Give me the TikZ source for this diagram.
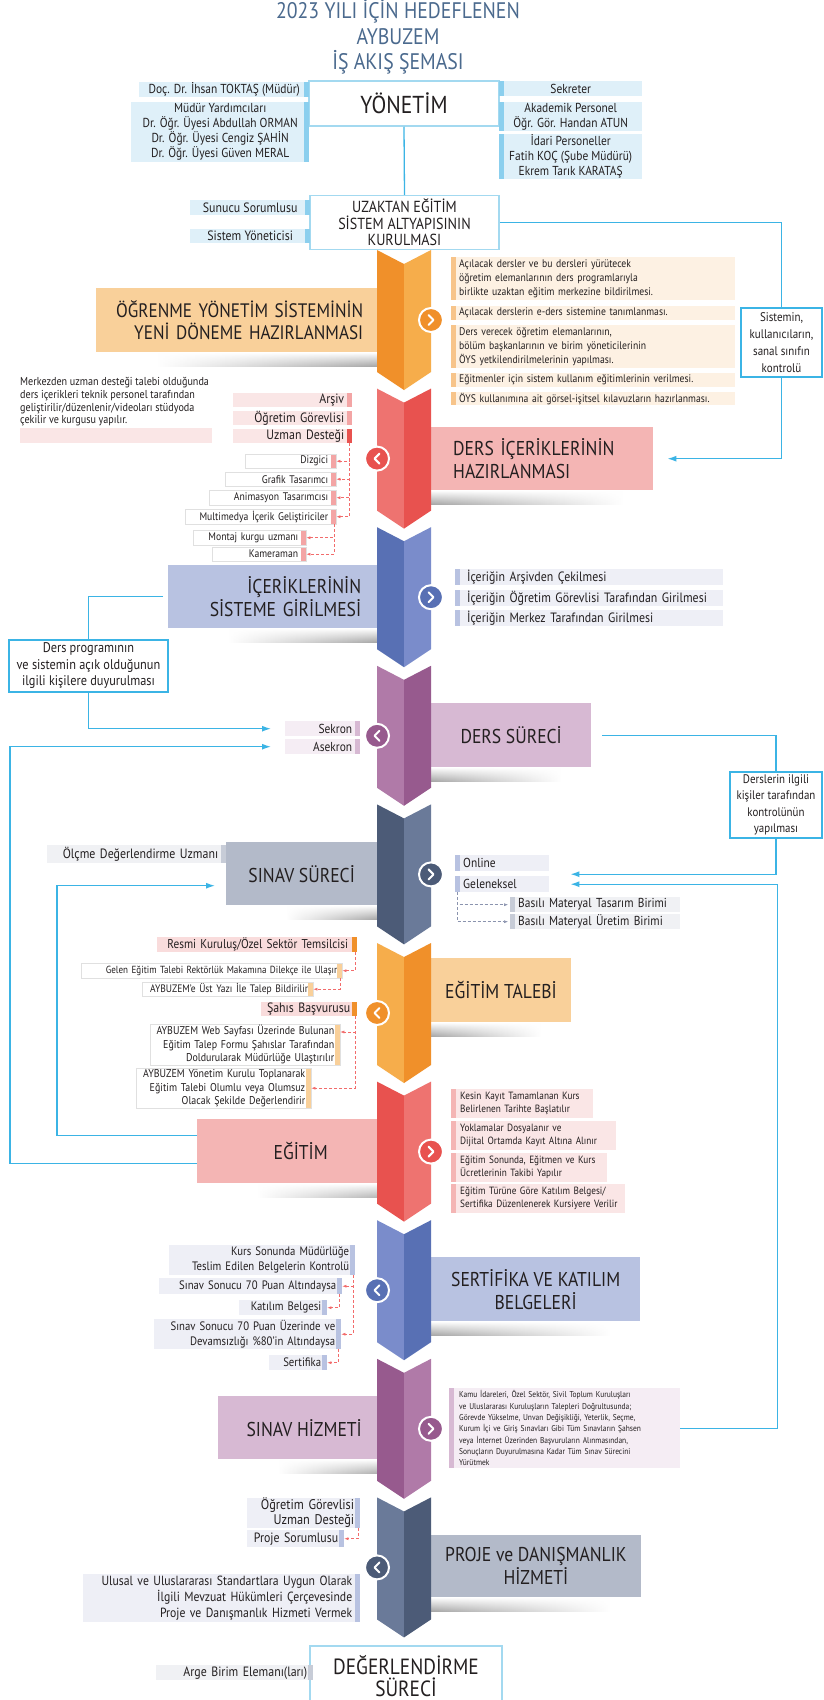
\documentclass[tikz,border=0pt]{standalone}
\usepackage{fontspec}
\setmainfont{PT Sans}[FakeStretch=0.88]
\usetikzlibrary{arrows.meta,calc,fadings}

\definecolor{baslik}{HTML}{4B6A8E}
\definecolor{metin}{HTML}{231F20}
\definecolor{cizgimavi}{HTML}{3BB4E5}
\definecolor{kenarmavi}{HTML}{A3D9F0}
\definecolor{maviZ}{HTML}{DFF0F9}
\definecolor{maviBar}{HTML}{8BCFEE}
\definecolor{turuncuK}{HTML}{F0902A}
\definecolor{turuncuA}{HTML}{F6AD4B}
\definecolor{turuncuB}{HTML}{F9D09A}
\definecolor{turuncuZ}{HTML}{FDF1E3}
\definecolor{turuncuBar}{HTML}{F7C48A}
\definecolor{kirmiziK}{HTML}{E8524F}
\definecolor{kirmiziA}{HTML}{EE7370}
\definecolor{kirmiziB}{HTML}{F4B5B4}
\definecolor{kirmiziZ}{HTML}{FAE6E6}
\definecolor{kirmiziBar}{HTML}{F3A5A5}
\definecolor{pembeZ}{HTML}{F9DCDC}
\definecolor{laciK}{HTML}{5870B4}
\definecolor{laciA}{HTML}{7A8CCB}
\definecolor{laciB}{HTML}{B8C2E1}
\definecolor{laciZ}{HTML}{EEEFF6}
\definecolor{morK}{HTML}{975A8E}
\definecolor{morA}{HTML}{B07AA8}
\definecolor{morB}{HTML}{D7B9D3}
\definecolor{morZ}{HTML}{F5EDF4}
\definecolor{griK}{HTML}{4C5B77}
\definecolor{griA}{HTML}{6A7A99}
\definecolor{griB}{HTML}{B3BAC9}
\definecolor{griZ}{HTML}{F0F1F4}
\definecolor{griBar}{HTML}{C7CCD7}
\definecolor{kesikkirmizi}{HTML}{F26B6B}
\definecolor{kesikgri}{HTML}{8A93AE}

\newcommand{\yazi}[2]{\fontsize{#1}{#2}\selectfont}

\begin{document}
\begin{tikzpicture}[x=1pt, y=-1pt,
    kutu/.style={inner xsep=8pt, inner ysep=0pt, anchor=north west, text=metin, font=\yazi{11}{14}},
    solbar/.style={path picture={\fill[#1] (path picture bounding box.north west) rectangle ([xshift=5pt]path picture bounding box.south west);}},
    sagbar/.style={path picture={\fill[#1] ([xshift=-5pt]path picture bounding box.north east) rectangle (path picture bounding box.south east);}},
    beyaz/.style={fill=white, draw=black!12, line width=0.4pt},
    band/.style={anchor=north west, inner xsep=14pt, inner ysep=0pt, text=metin, font=\yazi{20}{23}},
    cerceve/.style={draw=kenarmavi, line width=1.5pt, fill=white, text=metin},
    mavikutu/.style={draw=cizgimavi, line width=1.3pt, fill=white, text=metin, inner sep=1pt},
    mavicizgi/.style={draw=cizgimavi, line width=1.3pt, >={Latex[length=9pt,width=6pt]}},
    kesik/.style={draw=kesikkirmizi, densely dashed, line width=0.5pt, ->, >={Latex[length=4pt,width=3pt]}},
    kesikg/.style={kesik, draw=kesikgri}]

    \fill[white] (0,0) rectangle (824,1700);
    \useasboundingbox (0,0) rectangle (824,1700);

    % Başlık
    \node[font=\yazi{22.5}{25.5}, text=baslik, align=center] (baslik) at (398,37) {2023 YILI İÇİN HEDEFLENEN\\AYBUZEM\\İŞ AKIŞ ŞEMASI};

    % Yönetim
    \node[cerceve, minimum width=190pt, minimum height=45pt, font=\yazi{24.5}{28}] (yonetim) at (404,103.5) {YÖNETİM};
    \node[kutu, fill=maviZ, sagbar=maviBar, minimum width=170pt, minimum height=15pt, align=center, font=\yazi{13}{15}] (mudur) at (139,82) {Doç. Dr. İhsan TOKTAŞ (Müdür)};
    \node[kutu, fill=maviZ, sagbar=maviBar, minimum width=178pt, minimum height=60pt, align=center, font=\yazi{13}{15}] (yardimci) at (131,102) {Müdür Yardımcıları\\Dr. Öğr. Üyesi Abdullah ORMAN\\Dr. Öğr. Üyesi Cengiz ŞAHİN\\Dr. Öğr. Üyesi Güven MERAL};
    \node[kutu, fill=maviZ, solbar=maviBar, minimum width=143pt, minimum height=15pt, align=center, font=\yazi{13}{15}] (sekreter) at (499,81) {Sekreter};
    \node[kutu, fill=maviZ, solbar=maviBar, minimum width=143pt, minimum height=29pt, align=center, font=\yazi{13}{15}] (akademik) at (499,102) {Akademik Personel\\Öğr. Gör. Handan ATUN};
    \node[kutu, fill=maviZ, solbar=maviBar, minimum width=143pt, minimum height=45pt, align=center, font=\yazi{13}{15}] (idari) at (499,134) {İdari Personeller\\Fatih KOÇ (Şube Müdürü)\\Ekrem Tarık KARATAŞ};

    % Altyapı
    \node[cerceve, minimum width=189pt, minimum height=53pt, align=center, font=\yazi{16}{16.5}] (uzaktan) at (404.5,222.5) {UZAKTAN EĞİTİM\\SİSTEM ALTYAPISININ\\KURULMASI};
    \node[kutu, fill=maviZ, sagbar=maviBar, minimum width=120pt, minimum height=15pt, font=\yazi{13.5}{15}] (sunucu) at (190,200) {Sunucu Sorumlusu};
    \node[kutu, fill=maviZ, sagbar=maviBar, minimum width=120pt, minimum height=14pt, font=\yazi{13.5}{15}] (sistemyon) at (190,229) {Sistem Yöneticisi};
    \node[mavikutu, minimum width=81pt, minimum height=69pt, align=center, font=\yazi{12.5}{17}] (sistemin) at (781.5,342.5) {Sistemin,\\kullanıcıların,\\sanal sınıfın\\kontrolü};

    % Şeritler
    \node[band, fill=turuncuB, text width=253pt, align=right, minimum height=64pt, font=\yazi{19.5}{22}] (ogrenme) at (96,288) {ÖĞRENME YÖNETİM SİSTEMİNİN\\YENİ DÖNEME HAZIRLANMASI};
    \node[band, fill=kirmiziB, inner xsep=22pt, text width=178pt, align=left, minimum height=63pt] (dersicerik) at (431,427) {DERS İÇERİKLERİNİN\\HAZIRLANMASI};
    \node[band, fill=laciB, inner xsep=16pt, text width=177pt, align=right, minimum height=63pt] (icerikgiris) at (168,565) {İÇERİKLERİNİN\\SİSTEME GİRİLMESİ};
    \node[band, fill=morB, minimum width=160pt, minimum height=64pt] (derssureci) at (431,703) {DERS SÜRECİ};
    \node[band, fill=griB, minimum width=151pt, minimum height=63pt] (sinavsureci) at (226,842) {SINAV SÜRECİ};
    \node[band, fill=turuncuB, minimum width=130pt, minimum height=64pt] (egitimtalebi) at (431,958) {EĞİTİM TALEBİ};
    \node[band, fill=kirmiziB, minimum width=207pt, minimum height=64pt] (egitim) at (197,1119) {EĞİTİM};
    \node[band, fill=laciB, minimum width=209pt, minimum height=64pt, align=center] (sertifika) at (431,1257) {SERTİFİKA VE KATILIM\\BELGELERİ};
    \node[band, fill=morB, minimum width=172pt, minimum height=63pt] (sinavhizmeti) at (218,1396) {SINAV HİZMETİ};
    \node[band, fill=griB, minimum width=209pt, minimum height=62pt, align=center] (proje) at (431,1535) {PROJE ve DANIŞMANLIK\\HİZMETİ};

    % Gölgeler
    \foreach \b in {ogrenme,icerikgiris,sinavsureci,egitim,sinavhizmeti}
        \shade[left color=white, right color=black!35, path fading=north] ([xshift=60pt]\b.south west) rectangle ([yshift=-14pt]\b.south east);
    \foreach \b in {dersicerik,derssureci,egitimtalebi,sertifika,proje}
        \shade[left color=black!35, right color=white, path fading=north] (\b.south west) rectangle ([xshift=-30pt,yshift=-14pt]\b.south east);

    % Orta sütun
    \foreach \i/\koyu/\acik in {1/turuncuK/turuncuA, 2/kirmiziK/kirmiziA, 3/laciK/laciA, 4/morK/morA, 5/griK/griA,
                                6/turuncuK/turuncuA, 7/kirmiziK/kirmiziA, 8/laciK/laciA, 9/morK/morA, 10/griK/griA}{
        \pgfmathsetmacro{\tepe}{250+138.6*(\i-1)}
        \ifodd\i\relax
            \fill[\koyu] (377,\tepe) -- (404,\tepe+14) -- (404,\tepe+140) -- (377,\tepe+122) -- cycle;
            \fill[\acik] (404,\tepe+14) -- (431,\tepe) -- (431,\tepe+122) -- (404,\tepe+140) -- cycle;
            \filldraw[fill=\koyu, draw=white, line width=2pt] (431,\tepe+70) circle (12);
            \draw[white, line width=2pt, line cap=round, line join=round] (428.5,\tepe+65) -- (433.5,\tepe+70) -- (428.5,\tepe+75);
        \else
            \fill[\acik] (377,\tepe) -- (404,\tepe+14) -- (404,\tepe+140) -- (377,\tepe+122) -- cycle;
            \fill[\koyu] (404,\tepe+14) -- (431,\tepe) -- (431,\tepe+122) -- (404,\tepe+140) -- cycle;
            \filldraw[fill=\koyu, draw=white, line width=2pt] (377,\tepe+70) circle (12);
            \draw[white, line width=2pt, line cap=round, line join=round] (379.5,\tepe+65) -- (374.5,\tepe+70) -- (379.5,\tepe+75);
        \fi
    }

    % Öğrenme yönetim sistemi
    \node[kutu, fill=turuncuZ, solbar=turuncuBar, text width=268pt, align=left, minimum height=43pt] (o1) at (451,257) {Açılacak dersler ve bu dersleri yürütecek\\öğretim elemanlarının ders programlarıyla\\birlikte uzaktan eğitim merkezine bildirilmesi.};
    \node[kutu, fill=turuncuZ, solbar=turuncuBar, text width=268pt, align=left, minimum height=14pt] (o2) at (451,306) {Açılacak derslerin e-ders sistemine tanımlanması.};
    \node[kutu, fill=turuncuZ, solbar=turuncuBar, text width=268pt, align=left, minimum height=43pt] (o3) at (451,325) {Ders verecek öğretim elemanlarının,\\bölüm başkanlarının ve birim yöneticilerinin\\ÖYS yetkilendirilmelerinin yapılması.};
    \node[kutu, fill=turuncuZ, solbar=turuncuBar, text width=268pt, align=left, minimum height=14pt] (o4) at (451,373) {Eğitmenler için sistem kullanım eğitimlerinin verilmesi.};
    \node[kutu, fill=turuncuZ, solbar=turuncuBar, text width=268pt, align=left, minimum height=13pt] (o5) at (451,392) {ÖYS kullanımına ait görsel-işitsel kılavuzların hazırlanması.};

    % Ders içerikleri
    \node[anchor=north west, inner sep=0pt, align=left, text=metin, font=\yazi{11.5}{12.8}] (merkez) at (20,377) {Merkezden uzman desteği talebi olduğunda\\ders içerikleri teknik personel tarafından\\geliştirilir/düzenlenir/videoları stüdyoda\\çekilir ve kurgusu yapılır.};
    \node[kutu, fill=kirmiziZ, minimum width=192pt, minimum height=15pt] (pembe) at (20,428) {};
    \node[kutu, fill=kirmiziZ, sagbar=kirmiziBar, text width=103pt, align=right, minimum height=14pt, font=\yazi{13.5}{14}] (arsiv) at (233,393) {Arşiv};
    \node[kutu, fill=kirmiziZ, sagbar=kirmiziBar, text width=103pt, align=right, minimum height=14pt, font=\yazi{13.5}{14}] (ogrgor) at (233,411) {Öğretim Görevlisi};
    \node[kutu, fill=kirmiziZ, sagbar=kirmiziK, text width=103pt, align=right, minimum height=14pt, font=\yazi{13.5}{14}] (uzman) at (233,429) {Uzman Desteği};
    \node[kutu, beyaz, sagbar=kirmiziBar, text width=75pt, align=right, minimum height=14pt, font=\yazi{11}{12}] (dizgici) at (245,454) {Dizgici};
    \node[kutu, beyaz, sagbar=kirmiziBar, text width=95pt, align=right, minimum height=14pt, font=\yazi{11}{12}] (grafik) at (225,472) {Grafik Tasarımcı};
    \node[kutu, beyaz, sagbar=kirmiziBar, text width=111pt, align=right, minimum height=15pt, font=\yazi{11}{12}] (animasyon) at (209,490) {Animasyon Tasarımcısı};
    \node[kutu, beyaz, sagbar=kirmiziBar, text width=135pt, align=right, minimum height=15pt, font=\yazi{11}{12}] (multimedya) at (185,509) {Multimedya İçerik Geliştiriciler};
    \node[kutu, beyaz, sagbar=kirmiziBar, text width=97pt, align=right, minimum height=15pt, font=\yazi{11}{12}] (montaj) at (193,530) {Montaj kurgu uzmanı};
    \node[kutu, beyaz, sagbar=kirmiziBar, text width=78pt, align=right, minimum height=14pt, font=\yazi{11}{12}] (kameraman) at (212,547) {Kameraman};
    \foreach \n in {dizgici,grafik,animasyon,multimedya}
        \draw[kesik] ([xshift=-3pt]uzman.south east) |- (\n.east);
    \foreach \n in {montaj,kameraman}
        \draw[kesik] ([xshift=-2pt]multimedya.south east) |- (\n.east);

    % Sisteme giriş
    \node[kutu, fill=laciZ, solbar=laciB, inner xsep=12pt, text width=244pt, align=left, minimum height=16pt, font=\yazi{13.5}{15}] (ic1) at (455,569) {İçeriğin Arşivden Çekilmesi};
    \node[kutu, fill=laciZ, solbar=laciB, inner xsep=12pt, text width=244pt, align=left, minimum height=16pt, font=\yazi{13.5}{15}] (ic2) at (455,590) {İçeriğin Öğretim Görevlisi Tarafından Girilmesi};
    \node[kutu, fill=laciZ, solbar=laciB, inner xsep=12pt, text width=244pt, align=left, minimum height=16pt, font=\yazi{13.5}{15}] (ic3) at (455,610) {İçeriğin Merkez Tarafından Girilmesi};
    \node[mavikutu, minimum width=159pt, minimum height=52pt, align=center, font=\yazi{14}{16.5}] (duyuru) at (88.5,666) {Ders programının\\ve sistemin açık olduğunun\\ilgili kişilere duyurulması};

    % Ders süreci
    \node[kutu, fill=morZ, sagbar=morB, text width=59pt, align=right, minimum height=15pt, font=\yazi{13}{14}] (sekron) at (285,721) {Sekron};
    \node[kutu, fill=morZ, sagbar=morB, text width=59pt, align=right, minimum height=15pt, font=\yazi{13}{14}] (asekron) at (285,739) {Asekron};
    \node[mavikutu, minimum width=92pt, minimum height=66pt, align=center, font=\yazi{12.4}{16.5}] (kontrol) at (776,805) {Derslerin ilgili\\kişiler tarafından\\kontrolünün\\yapılması};

    % Sınav süreci
    \node[kutu, fill=griZ, sagbar=griBar, text width=163pt, align=right, minimum height=18pt, font=\yazi{13.5}{15}] (olcme) at (47,845) {Ölçme Değerlendirme Uzmanı};
    \node[kutu, fill=laciZ, solbar=laciB, text width=78pt, align=left, minimum height=16pt, font=\yazi{13}{15}] (online) at (455,855) {Online};
    \node[kutu, fill=laciZ, solbar=laciB, text width=78pt, align=left, minimum height=16pt, font=\yazi{13}{15}] (geleneksel) at (455,876) {Geleneksel};
    \node[kutu, fill=griZ, solbar=griBar, text width=154pt, align=left, minimum height=15pt, font=\yazi{13}{15}] (basili1) at (510,897) {Basılı Materyal Tasarım Birimi};
    \node[kutu, fill=griZ, solbar=griBar, text width=154pt, align=left, minimum height=15pt, font=\yazi{13}{15}] (basili2) at (510,914) {Basılı Materyal Üretim Birimi};
    \foreach \n in {basili1,basili2}
        \draw[kesikg] ([xshift=2pt]geleneksel.south west) |- ([xshift=-2pt]\n.west);

    % Eğitim talebi
    \node[kutu, fill=pembeZ, sagbar=turuncuK, inner xsep=4pt, text width=192pt, align=right, minimum height=15pt, font=\yazi{12.8}{15}] (resmi) at (157,937) {Resmi Kuruluş/Özel Sektör Temsilcisi\hspace*{5pt}};
    \node[kutu, beyaz, sagbar=turuncuB, inner xsep=5pt, text width=251pt, align=right, minimum height=15pt, font=\yazi{10.3}{12}] (gelen) at (81,963) {Gelen Eğitim Talebi Rektörlük Makamına Dilekçe ile Ulaşır};
    \node[kutu, beyaz, sagbar=turuncuB, inner xsep=5pt, text width=161pt, align=right, minimum height=14pt, font=\yazi{10.8}{12}] (ustyazi) at (142,982) {AYBUZEM’e Üst Yazı İle Talep Bildirilir};
    \node[kutu, fill=pembeZ, sagbar=turuncuK, inner xsep=4pt, text width=88pt, align=right, minimum height=14pt, font=\yazi{13.5}{15}] (sahis) at (261,1002) {Şahıs Başvurusu\hspace*{3pt}};
    \node[kutu, beyaz, sagbar=turuncuB, inner xsep=6pt, text width=178pt, align=right, minimum height=41pt, font=\yazi{11.3}{13.5}] (web) at (150,1024) {AYBUZEM Web Sayfası Üzerinde Bulunan\\Eğitim Talep Formu Şahıslar Tarafından\\Doldurularak Müdürlüğe Ulaştırılır};
    \node[kutu, beyaz, sagbar=turuncuB, inner xsep=6pt, text width=163pt, align=right, minimum height=40pt, font=\yazi{11.3}{13.5}] (yk) at (136,1068) {AYBUZEM Yönetim Kurulu Toplanarak\\Eğitim Talebi Olumlu veya Olumsuz\\Olacak Şekilde Değerlendirir};
    \draw[kesik] ([xshift=-2pt]resmi.south east) |- (gelen.east);
    \draw[kesik] ([xshift=-2pt]gelen.south east) |- (ustyazi.east);
    \draw[kesik] ([xshift=-2pt]sahis.south east) |- ([yshift=-8pt]web.north east);
    \draw[kesik] ([xshift=-2pt]sahis.south east) |- (yk.east);

    % Eğitim
    \node[kutu, fill=kirmiziZ, solbar=kirmiziB, inner xsep=5pt, text width=132pt, align=left, minimum height=29pt, font=\yazi{10.5}{13}] (k1) at (451,1089) {\hspace*{4pt}Kesin Kayıt Tamamlanan Kurs\\\hspace*{4pt}Belirlenen Tarihte Başlatılır};
    \node[kutu, fill=kirmiziZ, solbar=kirmiziB, inner xsep=5pt, text width=155pt, align=left, minimum height=29pt, font=\yazi{10.5}{13}] (k2) at (451,1121) {\hspace*{4pt}Yoklamalar Dosyalanır ve\\\hspace*{4pt}Dijital Ortamda Kayıt Altına Alınır};
    \node[kutu, fill=kirmiziZ, solbar=kirmiziB, inner xsep=5pt, text width=146pt, align=left, minimum height=29pt, font=\yazi{10.5}{13}] (k3) at (451,1153) {\hspace*{4pt}Eğitim Sonunda, Eğitmen ve Kurs\\\hspace*{4pt}Ücretlerinin Takibi Yapılır};
    \node[kutu, fill=kirmiziZ, solbar=kirmiziB, inner xsep=5pt, text width=164pt, align=left, minimum height=29pt, font=\yazi{10.5}{13}] (k4) at (451,1184) {\hspace*{4pt}Eğitim Türüne Göre Katılım Belgesi/\\\hspace*{4pt}Sertifika Düzenlenerek Kursiyere Verilir};

    % Sertifika ve katılım belgeleri
    \node[kutu, fill=laciZ, sagbar=laciB, inner xsep=6pt, text width=174pt, align=right, minimum height=30pt, font=\yazi{12.2}{15}] (s1) at (169,1245) {Kurs Sonunda Müdürlüğe\\Teslim Edilen Belgelerin Kontrolü};
    \node[kutu, fill=laciZ, sagbar=laciB, inner xsep=6pt, text width=171pt, align=right, minimum height=16pt, font=\yazi{12.2}{15}] (s2) at (159,1278) {Sınav Sonucu 70 Puan Altındaysa};
    \node[kutu, fill=laciZ, sagbar=laciB, inner xsep=6pt, text width=76pt, align=right, minimum height=15pt, font=\yazi{12.2}{15}] (s3) at (239,1300) {Katılım Belgesi};
    \node[kutu, fill=laciZ, sagbar=laciB, inner xsep=6pt, text width=175pt, align=right, minimum height=30pt, font=\yazi{12.2}{15}] (s4) at (154,1319) {Sınav Sonucu 70 Puan Üzerinde ve\\Devamsızlığı \%80’in Altındaysa};
    \node[kutu, fill=laciZ, sagbar=laciB, inner xsep=6pt, text width=46pt, align=right, minimum height=15pt, font=\yazi{12.2}{15}] (s5) at (269,1355) {Sertifika};
    \draw[kesik] ([xshift=-2pt]s1.south east) |- (s2.east);
    \draw[kesik] ([xshift=-2pt]s1.south east) |- (s4.east);
    \draw[kesik] ([xshift=-3pt]s2.south east) |- (s3.east);
    \draw[kesik] ([xshift=-3pt]s4.south east) |- (s5.east);

    % Sınav hizmeti
    \node[kutu, fill=morZ, solbar=morB, inner xsep=6pt, text width=219pt, align=left, minimum height=80pt, font=\yazi{8.5}{11.3}] (hizmet) at (449,1388) {\hspace*{4pt}Kamu İdareleri, Özel Sektör, Sivil Toplum Kuruluşları\\\hspace*{4pt}ve Uluslararası Kuruluşların Talepleri Doğrultusunda;\\\hspace*{4pt}Görevde Yükselme, Unvan Değişikliği, Yeterlik, Seçme,\\\hspace*{4pt}Kurum İçi ve Giriş Sınavları Gibi Tüm Sınavların Şahsen\\\hspace*{4pt}veya İnternet Üzerinden Başvuruların Alınmasından,\\\hspace*{4pt}Sonuçların Duyurulmasına Kadar Tüm Sınav Sürecini\\\hspace*{4pt}Yürütmek};

    % Proje ve danışmanlık
    \node[kutu, fill=laciZ, sagbar=laciB, inner xsep=6pt, text width=101pt, align=right, minimum height=29pt, font=\yazi{14}{15}] (p1) at (247,1498) {Öğretim Görevlisi\\Uzman Desteği};
    \node[kutu, fill=laciZ, sagbar=laciB, inner xsep=6pt, text width=85pt, align=right, minimum height=17pt, font=\yazi{13.5}{15}] (p2) at (247,1530) {Proje Sorumlusu};
    \node[kutu, fill=laciZ, sagbar=laciB, inner xsep=8pt, text width=261pt, align=right, minimum height=48pt, font=\yazi{13.3}{16}] (p3) at (83,1574) {Ulusal ve Uluslararası Standartlara Uygun Olarak\\İlgili Mevzuat Hükümleri Çerçevesinde\\Proje ve Danışmanlık Hizmeti Vermek};
    \draw[kesik] ([xshift=-2pt]p1.south east) |- (p2.east);

    % Değerlendirme
    \node[cerceve, minimum width=192pt, minimum height=60pt, align=center, font=\yazi{22}{22.5}] (degerlendirme) at (406,1676) {DEĞERLENDİRME\\SÜRECİ};
    \node[kutu, fill=griZ, sagbar=griBar, inner xsep=6pt, text width=145pt, align=right, minimum height=15pt, font=\yazi{13.5}{15}] (arge) at (156,1665) {Arge Birim Elemanı(ları)};

    % Bağlantılar
    \draw[mavicizgi] (yonetim.south) -- (uzaktan.north);
    \draw[mavicizgi] (uzaktan.east) -| (sistemin.north);
    \draw[mavicizgi,->] (sistemin.south) |- ([xshift=14pt]dersicerik.east);
    \draw[mavicizgi] ([xshift=-5pt]icerikgiris.west) -| (duyuru.north);
    \draw[mavicizgi,->] (duyuru.south) |- ([xshift=-14pt]sekron.west);
    \draw[mavicizgi] ([xshift=11pt]derssureci.east) -| (kontrol.north);
    \draw[mavicizgi,->] (kontrol.south) |- ([xshift=21pt,yshift=10pt]geleneksel.east);
    \draw[mavicizgi,->] (hizmet.east) -| ([xshift=228pt]geleneksel.east) -- ([xshift=21pt]geleneksel.east);
    \draw[mavicizgi,->] ($(egitim.west)+(0,-16)$) -| ([xshift=-169pt,yshift=-12pt]sinavsureci.west) -- ([xshift=-11pt,yshift=-12pt]sinavsureci.west);
    \draw[mavicizgi,->] ($(egitim.west)+(0,12)$) -| ([xshift=-275pt]asekron.west) -- ([xshift=-14pt]asekron.west);

\end{tikzpicture}
\end{document}
